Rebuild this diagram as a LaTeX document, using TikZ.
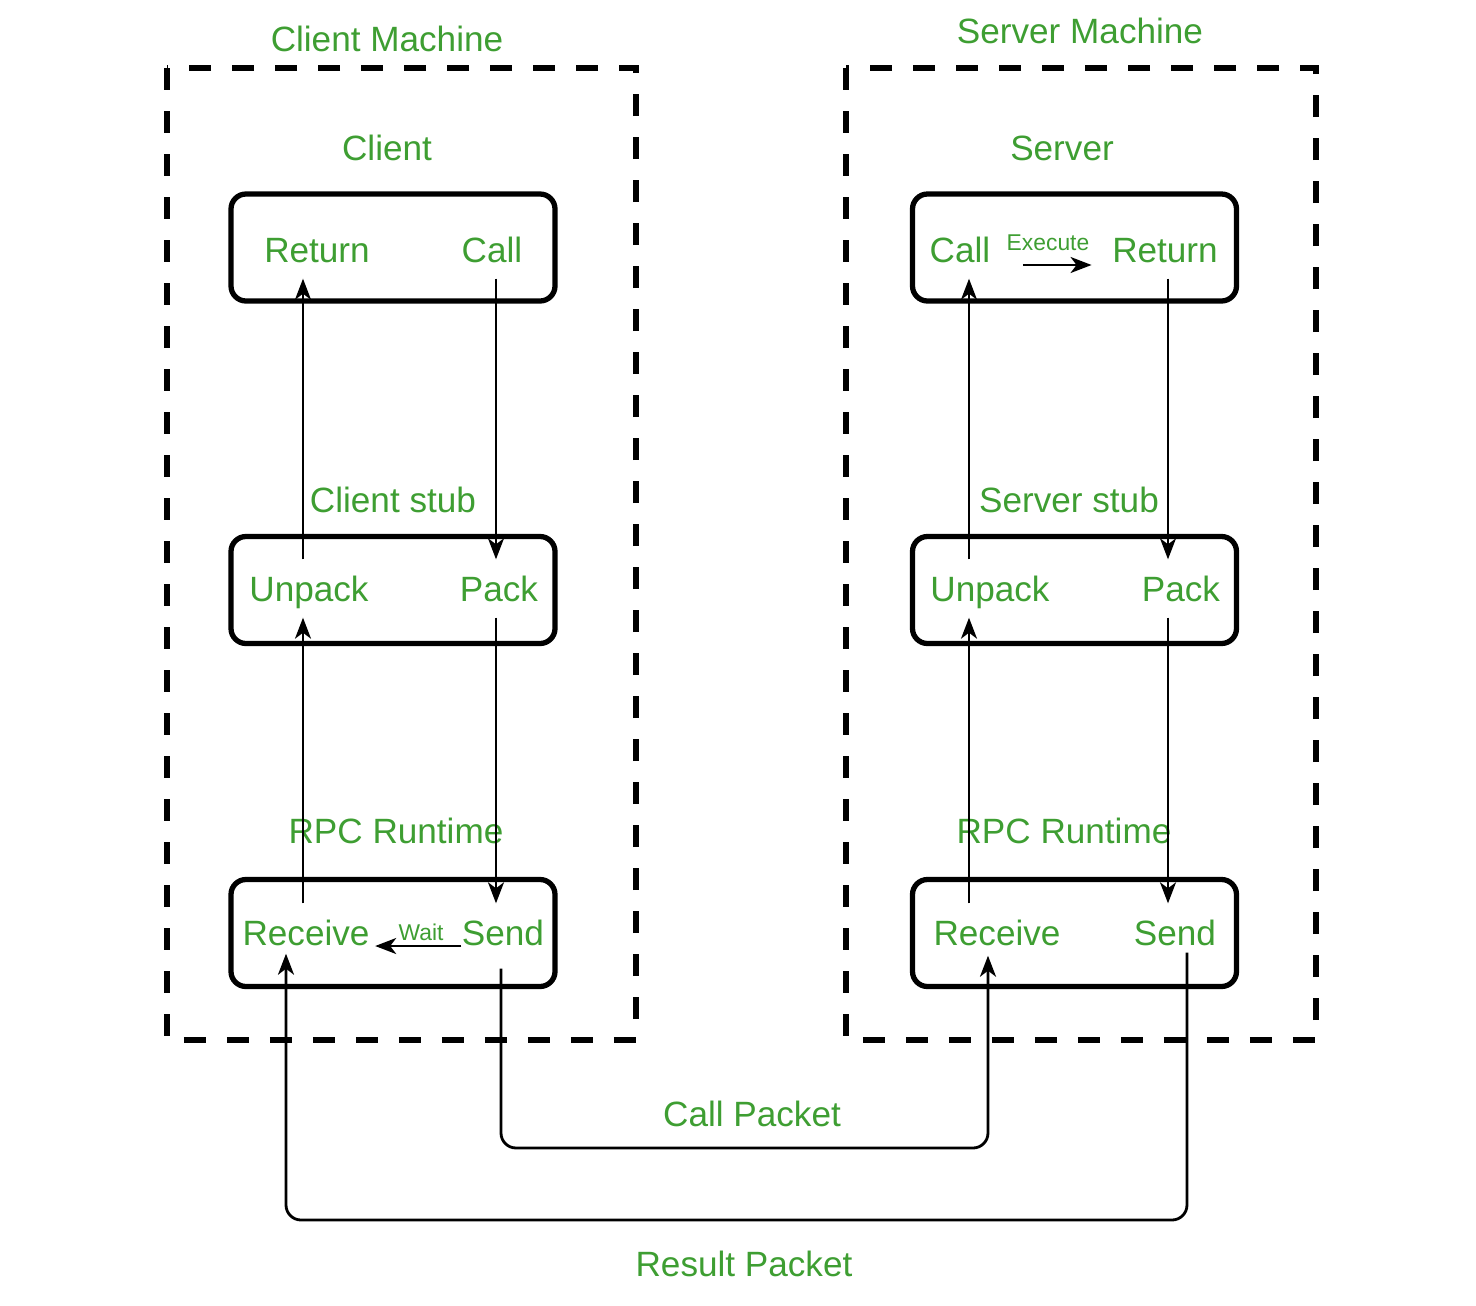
\documentclass[tikz,border=0pt]{standalone}
\usepackage{fontspec}
\setmainfont{Liberation Sans}
\usetikzlibrary{arrows.meta}
\definecolor{lbl}{HTML}{3E9E32}
\tikzset{
  machine/.style={draw=black, line width=1.7pt, dash pattern=on 2.2mm off 2.1mm},
  layer/.style={draw=black, line width=1.5pt, rounded corners=1.5mm, minimum width=32.4mm, minimum height=10.7mm, inner sep=0pt},
  lab/.style={text=lbl, font=\fontsize{10}{12}\selectfont, inner sep=0pt, anchor=base},
  intext/.style={lab, inner ysep=1.6mm, text height=2.5mm, text depth=0mm},
  tiny/.style={text=lbl, font=\fontsize{6.5}{8}\selectfont, inner sep=0pt, anchor=base},
  flow/.style={draw=black, line width=0.7pt, -{Stealth[length=2.1mm,width=1.6mm,inset=0.6mm]}},
  packet/.style={flow, line width=0.8pt, rounded corners=1.5mm},
}
\begin{document}
\begin{tikzpicture}[x=0.1mm,y=-0.1mm]
  \useasboundingbox (0,0) rectangle (1476,1306);
  % machines
  \draw[machine] (167,68) rectangle (636,1040);
  \draw[machine] (846,68) rectangle (1316,1040);
  \foreach \N/\X/\Y/\T in {cm/387/51/Client Machine, sm/1080/43/Server Machine,
      cl/387/160/Client, sv/1062/160/Server, cstub/393/512/Client stub, sstub/1069/512/Server stub,
      crt/396/843/RPC Runtime, srt/1064/843/RPC Runtime,
      callp/752/1126/Call Packet, resp/744/1276/Result Packet}
    \node[lab] (\N) at (\X,\Y) {\T};
  % layers
  \foreach \N/\X/\Y in {cTop/393/247.5, cMid/393/590, cBot/393/933,
      sTop/1074.5/247.5, sMid/1074.5/590, sBot/1074.5/933}
    \node[layer] (\N) at (\X,\Y) {};
  \foreach \N/\X/\Y/\T in {cRet/317/262/Return, cCall/492/262/Call, cUnpack/309/601/Unpack,
      cPack/499/601/Pack, cRecv/306/945/Receive, cSend/503/945/Send,
      sCall/960/262/Call, sRet/1165/262/Return, sUnpack/990/601/Unpack,
      sPack/1181/601/Pack, sRecv/997/945/Receive, sSend/1175/945/Send}
    \node[intext] (\N) at (\X,\Y) {\T};
  \node[tiny] (cWait) at (421,940) {Wait};
  \node[tiny] (sExec) at (1048,250) {Execute};
  % vertical flows
  \coordinate (cUp) at (303,0);
  \coordinate (cDown) at (496,0);
  \coordinate (sUp) at (969,0);
  \coordinate (sDown) at (1168,0);
  \draw[flow] (cDown |- cCall.south) -- (cDown |- cPack.north);
  \draw[flow] (cDown |- cPack.south) -- (cDown |- cSend.north);
  \draw[flow] (cUp |- cRecv.north) -- (cUp |- cUnpack.south);
  \draw[flow] (cUp |- cUnpack.north) -- (cUp |- cRet.south);
  \draw[flow] (sDown |- sRet.south) -- (sDown |- sPack.north);
  \draw[flow] (sDown |- sPack.south) -- (sDown |- sSend.north);
  \draw[flow] (sUp |- sRecv.north) -- (sUp |- sUnpack.south);
  \draw[flow] (sUp |- sUnpack.north) -- (sUp |- sCall.south);
  % wait / execute
  \draw[flow] ([yshift=-0.1mm]cSend.base west) -- ([xshift=0.5mm,yshift=-0.1mm]cRecv.base east);
  \draw[flow] ([xshift=3.2mm,yshift=-0.3mm]sCall.base east) -- ([xshift=-2mm,yshift=-0.3mm]sRet.base west);
  % packets
  \coordinate (callLine) at (752,1148);
  \coordinate (resLine) at (744,1220);
  \draw[packet] ([shift={(-0.2mm,-0.7mm)}]cSend.south) |- (callLine) -| ([shift={(-0.9mm,0.6mm)}]sRecv.south);
  \draw[packet] ([shift={(1.2mm,0.9mm)}]sSend.south) |- (resLine) -| ([shift={(-2mm,0.8mm)}]cRecv.south);
\end{tikzpicture}
\end{document}
